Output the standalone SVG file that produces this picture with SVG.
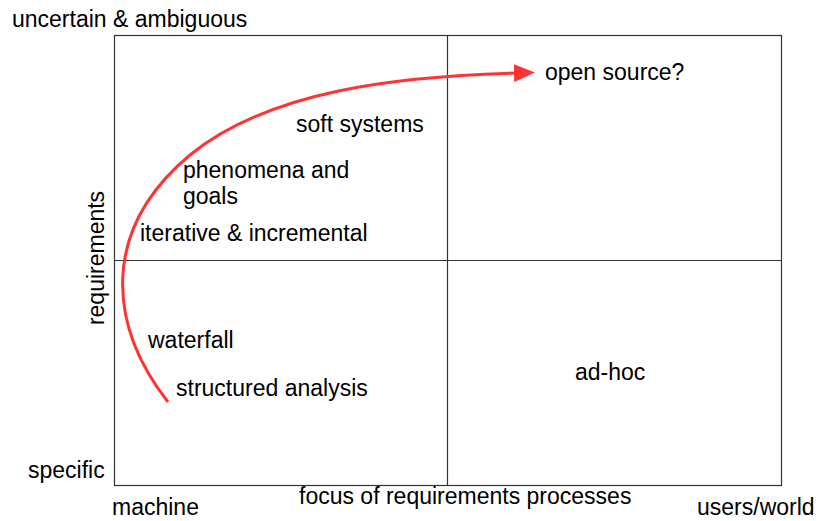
<svg xmlns="http://www.w3.org/2000/svg" width="819" height="521" viewBox="0 0 819 521">
<style>
text{font-family:"Liberation Sans",Arial,sans-serif;font-size:23px;fill:#000}
.grid{fill:none;stroke:#333;stroke-width:1.2}
.curve{fill:none;stroke:#ff3333;stroke-width:3}
</style>
<defs>
<marker id="ah" markerWidth="8" markerHeight="6" refX="1" refY="3" orient="auto" markerUnits="strokeWidth">
<path d="M0,0 L7,3 L0,6 z" fill="#ff3333"/>
</marker>
</defs>
<rect width="819" height="521" fill="#fff"/>
<g id="quadrants">
<rect class="grid" x="114.5" y="35.5" width="667" height="450"/>
<line class="grid" x1="447.5" y1="35.5" x2="447.5" y2="485.5"/>
<line class="grid" x1="114.5" y1="260.5" x2="781.5" y2="260.5"/>
</g>
<g id="axes">
<text x="12" y="27">uncertain &amp; ambiguous</text>
<text x="28" y="478">specific</text>
<text transform="translate(104,258) rotate(-90)" text-anchor="middle">requirements</text>
<text x="112" y="515">machine</text>
<text x="299" y="504">focus of requirements processes</text>
<text x="697" y="515">users/world</text>
</g>
<g id="connectors">
<path class="curve" d="M168,402 C108,325 100,230 190,155 C270,90 400,76 517,73" marker-end="url(#ah)"/>
</g>
<g id="n-open-source"><text x="545" y="80">open source?</text></g>
<g id="n-soft-systems"><text x="296" y="132">soft systems</text></g>
<g id="n-phenomena"><text x="183" y="178">phenomena and</text><text x="183" y="204">goals</text></g>
<g id="n-iterative"><text x="140" y="241">iterative &amp; incremental</text></g>
<g id="n-waterfall"><text x="148" y="348">waterfall</text></g>
<g id="n-structured"><text x="176" y="396">structured analysis</text></g>
<g id="n-adhoc"><text x="575" y="380">ad-hoc</text></g>
</svg>
